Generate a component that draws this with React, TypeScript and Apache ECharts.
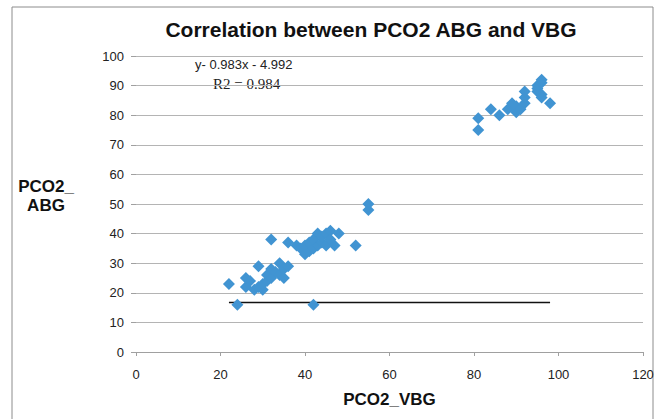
import React, { useEffect, useRef } from "react";
import * as echarts from "echarts";

const titleText = "Correlation between PCO2 ABG and VBG";
const xName = "PCO2_VBG";
const yName = "PCO2_\nABG";
const equationText = "y- 0.983x - 4.992";
const r2Text = "R2 = 0.984";

// PCO2_VBG values
const vbg = [
  22, 24, 26, 26, 27, 28, 29, 29, 30, 30, 31, 31, 32, 32, 32, 33, 34, 34, 35, 35, 36, 36,
  38, 39, 40, 40, 41, 41, 42, 42, 42, 43, 43, 44, 44, 45, 45, 46, 46, 47, 48, 52, 55, 55,
  81, 81, 84, 86, 88, 89, 89, 90, 90, 91, 92, 92, 92, 95, 95, 95, 96, 96, 96, 96, 98,
];
// PCO2_ABG values
const abg = [
  23, 16, 22, 25, 24, 21, 22, 29, 21, 23, 24, 26, 25, 28, 38, 27, 26, 30, 25, 28, 29, 37,
  36, 35, 33, 36, 34, 37, 16, 35, 38, 36, 40, 37, 39, 36, 40, 41, 38, 36, 40, 36, 48, 50,
  75, 79, 82, 80, 82, 83, 84, 81, 83, 82, 84, 86, 88, 88, 89, 90, 91, 92, 87, 86, 84,
];
// flat trend line drawn in the reference
const trendX = [22, 98];
const trendY = [16.7, 16.7];

const xTicks = { min: 0, max: 120, interval: 20 };
const yTicks = { min: 0, max: 100, interval: 10 };

export default function App() {
  const ref = useRef<HTMLDivElement>(null);
  useEffect(() => {
    if (!ref.current) return;
    const chart = echarts.init(ref.current, null, { renderer: "svg" });
    const sans = "'Liberation Sans', Arial, sans-serif";
    chart.setOption({
      animation: false,
      backgroundColor: "#ffffff",
      title: {
        text: titleText,
        left: 366,
        textAlign: "center",
        top: 14,
        textStyle: {
          fontFamily: sans,
          fontWeight: "bold",
          fontSize: 21,
          color: "#111",
        },
      },
      graphic: [
        {
          type: "rect",
          shape: { x: 12, y: 7, width: 641, height: 430 },
          style: { fill: "none", stroke: "#8c8c8c", lineWidth: 1 },
          silent: true,
          z: -1,
        },
        {
          type: "text",
          x: 195,
          y: 58,
          style: {
            text: equationText,
            fontFamily: sans,
            fontSize: 13,
            fill: "#222",
          },
        },
        {
          type: "text",
          x: 213,
          y: 76,
          style: {
            text: r2Text,
            fontFamily: "Liberation Serif, DejaVu Serif, serif",
            fontSize: 15,
            fill: "#222",
          },
        },
        {
          type: "text",
          x: 46,
          y: 177,
          style: {
            text: yName,
            fontFamily: sans,
            fontWeight: "bold",
            fontSize: 17,
            fill: "#111",
            align: "center",
            lineHeight: 19,
          },
        },
      ],
      grid: { left: 136, right: 18, top: 56, bottom: 67 },
      xAxis: {
        type: "value",
        min: xTicks.min,
        max: xTicks.max,
        interval: xTicks.interval,
        name: xName,
        nameLocation: "middle",
        nameGap: 39,
        nameTextStyle: {
          fontFamily: sans,
          fontWeight: "bold",
          fontSize: 17,
          color: "#111",
        },
        axisLine: { show: true, lineStyle: { color: "#a0a0a0", width: 1 } },
        axisTick: { show: true, length: 4, lineStyle: { color: "#a0a0a0" } },
        axisLabel: { fontFamily: sans, fontSize: 13, color: "#222", margin: 16 },
        splitLine: { show: false },
      },
      yAxis: {
        type: "value",
        min: yTicks.min,
        max: yTicks.max,
        interval: yTicks.interval,
        axisLine: { show: false },
        axisTick: { show: true, length: 5, lineStyle: { color: "#a0a0a0" } },
        axisLabel: { fontFamily: sans, fontSize: 13, color: "#222", margin: 12 },
        splitLine: { show: true, lineStyle: { color: "#b4b4b4", width: 1 } },
      },
      series: [
        {
          type: "line",
          data: trendX.map((x, i) => [x, trendY[i]]),
          showSymbol: false,
          symbol: "none",
          lineStyle: { color: "#111", width: 1.5 },
          z: 1,
        },
        {
          type: "scatter",
          data: vbg.map((x, i) => [x, abg[i]]),
          symbol: "diamond",
          symbolSize: 12,
          itemStyle: { color: "#4194d2", opacity: 1 },
          z: 3,
        },
      ],
    });
    return () => chart.dispose();
  }, []);
  return (
    <div
      ref={ref}
      style={{ position: "fixed", left: 0, top: 0, width: 661, height: 419 }}
    />
  );
}
